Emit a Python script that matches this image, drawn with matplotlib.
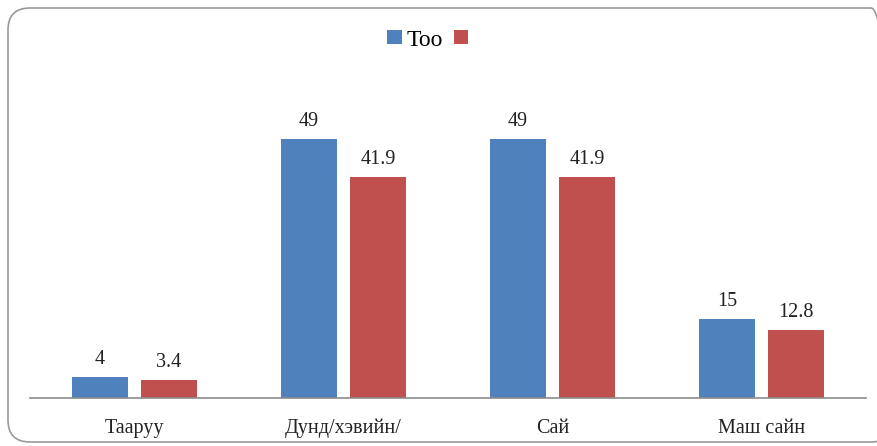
import matplotlib.pyplot as plt
import numpy as np
from matplotlib.patches import FancyBboxPatch

categories = ['Тааруу', 'Дунд/хэвийн/', 'Сай', 'Маш сайн']
too = [4, 49, 49, 15]
huvi = [3.4, 41.9, 41.9, 12.8]

plt.rcParams['font.family'] = ['Liberation Serif', 'DejaVu Serif']

fig = plt.figure(figsize=(8.78, 4.46), dpi=100)
ax = fig.add_axes([30/878, 1-398/446, 836/878, 317/446])

x = np.arange(len(categories))
w = 0.268
b1 = ax.bar(x - 0.165, too, w, color='#4f81bd', label='Too')
b2 = ax.bar(x + 0.165, huvi, w, color='#c0504d', label=' ')

for bars, vals in [(b1, too), (b2, huvi)]:
    for r, v in zip(bars, vals):
        ax.text(r.get_x() + r.get_width()/2, v + 1.5, f'{v:g}', ha='center', va='bottom',
                fontsize=14.5, color='#222222')

ax.set_xlim(-0.5, 3.5)
ax.set_ylim(0, 60)
ax.set_yticks([])
ax.set_xticks(x)
ax.set_xticklabels(categories, fontsize=14.5, color='#222222')
ax.tick_params(axis='x', length=0, pad=15)
for s in ['top', 'right', 'left']:
    ax.spines[s].set_visible(False)
ax.spines['bottom'].set_color('#8c8c8c')
ax.spines['bottom'].set_linewidth(1.2)

leg = fig.legend(loc='center', bbox_to_anchor=(433/878, 1-40/446), ncol=2, frameon=False,
                 fontsize=17, handlelength=0.62, handleheight=0.5, handletextpad=0.2,
                 columnspacing=0.45)

# rounded frame around the chart
frame = FancyBboxPatch((8/878, 4/446), 885/878, 434/446, boxstyle='round,pad=0,rounding_size=0.025',
                       transform=fig.transFigure, fill=False, edgecolor='#999999', linewidth=1.2,
                       mutation_aspect=878/446)
fig.patches.append(frame)

fig.savefig('out.png', dpi=100)
